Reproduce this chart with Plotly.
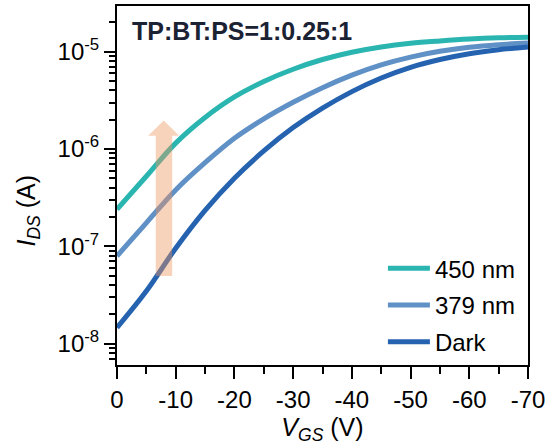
import plotly.graph_objects as go

# Data
vgs = [0, -5, -10, -15, -20, -25, -30, -35, -40, -45, -50, -55, -60, -65, -70]
i_450 = [2.40e-7, 5.25e-7, 1.15e-6, 2.11e-6, 3.43e-6, 4.95e-6, 6.61e-6, 8.32e-6, 9.89e-6,
         1.12e-5, 1.22e-5, 1.29e-5, 1.35e-5, 1.39e-5, 1.41e-5]
i_379 = [7.94e-8, 1.74e-7, 3.80e-7, 7.24e-7, 1.29e-6, 2.04e-6, 3.02e-6, 4.27e-6, 5.75e-6,
         7.33e-6, 8.81e-6, 1.01e-5, 1.11e-5, 1.18e-5, 1.23e-5]
i_dark = [1.46e-8, 3.47e-8, 9.55e-8, 2.34e-7, 5.01e-7, 9.55e-7, 1.66e-6, 2.63e-6, 3.89e-6,
          5.37e-6, 6.92e-6, 8.32e-6, 9.55e-6, 1.05e-5, 1.12e-5]

series_names = ["450 nm", "379 nm", "Dark"]
series_colors = ["#2ab5b0", "#5f90c6", "#2563b0"]

x_tickvals = [0, -10, -20, -30, -40, -50, -60, -70]
x_ticktext = ["0", "-10", "-20", "-30", "-40", "-50", "-60", "-70"]
y_tickvals = [1e-8, 1e-7, 1e-6, 1e-5]
y_ticktext = ["10<sup>-8</sup>", "10<sup>-7</sup>", "10<sup>-6</sup>", "10<sup>-5</sup>"]
y_minor_vals = [m * 10.0 ** e for e in (-9, -8, -7, -6, -5) for m in range(2, 10)]

# arrow outline (V, I)
arrow_v = [-6.6, -9.4, -9.4, -10.6, -7.95, -5.3, -6.6, -6.6]
arrow_i = [4.94e-8, 4.94e-8, 1.37e-6, 1.37e-6, 1.96e-6, 1.37e-6, 1.37e-6, 4.94e-8]

fig = go.Figure()
for name, ys, col in zip(series_names, [i_450, i_379, i_dark], series_colors):
    fig.add_trace(go.Scatter(x=vgs, y=ys, mode="lines", name=name, legendgroup=name,
                             line=dict(color=col, width=5, shape="spline", smoothing=1.0)))

fig.add_trace(go.Scatter(x=arrow_v, y=arrow_i, mode="lines", fill="toself",
                         fillcolor="rgba(238,150,95,0.42)", line=dict(width=0),
                         showlegend=False, hoverinfo="skip"))

font_family = "Liberation Sans, Arial, sans-serif"
fig.update_layout(
    width=557, height=447,
    margin=dict(l=117, r=29, t=6, b=82),
    paper_bgcolor="white", plot_bgcolor="white",
    font=dict(family=font_family, size=24, color="black"),
    showlegend=True,
    legend=dict(x=0.647, y=0.331, xanchor="left", yanchor="top",
                bgcolor="rgba(0,0,0,0)", font=dict(size=24),
                tracegroupgap=2.5, itemwidth=42),
    xaxis=dict(range=[0, -70], tickvals=x_tickvals, ticktext=x_ticktext,
               ticks="outside", ticklen=12, tickwidth=2, tickcolor="black",
               showline=True, linewidth=2, linecolor="black", mirror=True,
               showgrid=False, zeroline=False, automargin=False,
               minor=dict(ticks="outside", ticklen=7, tickwidth=2, dtick=5, tickcolor="black"),
               tickfont=dict(size=24),
               title=dict(text="<i>V<sub>GS</sub></i> (V)", font=dict(size=25), standoff=1)),
    yaxis=dict(type="log", range=[-8.22, -4.53], tickvals=y_tickvals, ticktext=y_ticktext,
               ticks="outside", ticklen=11, tickwidth=2, tickcolor="black",
               showline=True, linewidth=2, linecolor="black", mirror=True,
               showgrid=False, zeroline=False, automargin=False,
               minor=dict(ticks="outside", ticklen=6, tickwidth=1.5, tickcolor="black",
                          tickvals=y_minor_vals),
               tickfont=dict(size=24)),
    annotations=[
        dict(text="<b>TP:BT:PS=1:0.25:1</b>", xref="paper", yref="paper",
             x=0.032, y=0.930, xanchor="left", yanchor="middle", showarrow=False,
             font=dict(size=25, color="#1a2233")),
        dict(text="<i>I<sub>DS</sub></i> (A)", xref="paper", yref="paper",
             x=-0.216, y=0.431, xanchor="center", yanchor="middle", showarrow=False,
             textangle=-90, font=dict(size=25, color="black")),
    ],
)

fig.write_html("out.html", config={"displayModeBar": False},
               post_script="document.body.style.margin='0px';")
